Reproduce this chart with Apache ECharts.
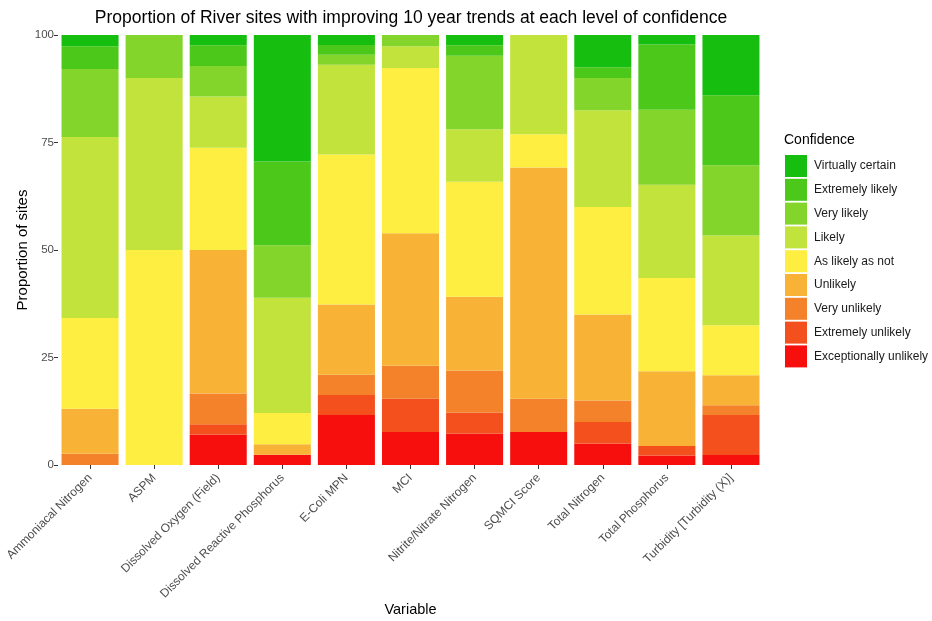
<!DOCTYPE html>
<html>
<head>
<meta charset="utf-8">
<script src="https://cdn.jsdelivr.net/npm/echarts@6/dist/echarts.min.js"></script>
<style>
  html, body { margin: 0; padding: 0; background: #ffffff; }
  #chart { width: 932px; height: 621px; }
</style>
</head>
<body>
<div id="chart"></div>
<script>
// Water quality variables (x categories)
const variables = [
  'Ammoniacal Nitrogen', 'ASPM', 'Dissolved Oxygen (Field)', 'Dissolved Reactive Phosphorus',
  'E-Coli MPN', 'MCI', 'Nitrite/Nitrate Nitrogen', 'SQMCI Score', 'Total Nitrogen',
  'Total Phosphorus', 'Turbidity [Turbidity (X)]'
];

// Confidence levels, bottom of the stack first
const levels = [
  'Exceptionally unlikely', 'Extremely unlikely', 'Very unlikely', 'Unlikely',
  'As likely as not', 'Likely', 'Very likely', 'Extremely likely', 'Virtually certain'
];

// Proportion of sites (%) per confidence level, one value per variable
const exceptionallyUnlikely = [0, 0, 7.1, 2.4, 11.6, 7.7, 7.3, 7.7, 5, 2.2, 2.3];
const extremelyUnlikely     = [0, 0, 2.4, 0, 4.7, 7.7, 4.9, 0, 5, 2.2, 9.3];
const veryUnlikely          = [2.6, 0, 7.1, 0, 4.7, 7.7, 9.8, 7.7, 5, 0, 2.3];
const unlikely              = [10.5, 0, 33.4, 2.4, 16.3, 30.8, 17.1, 53.8, 20, 17.4, 7.0];
const asLikelyAsNot         = [21.1, 50, 23.8, 7.3, 34.9, 38.4, 26.8, 7.7, 25, 21.7, 11.6];
const likely                = [42.1, 40, 11.9, 26.8, 20.9, 5.1, 12.2, 23.1, 22.5, 21.7, 20.9];
const veryLikely            = [15.8, 10, 7.1, 12.2, 2.3, 2.6, 17.1, 0, 7.5, 17.4, 16.3];
const extremelyLikely       = [5.3, 0, 4.8, 19.5, 2.3, 0, 2.4, 0, 2.5, 15.2, 16.3];
const virtuallyCertain      = [2.6, 0, 2.4, 29.4, 2.3, 0, 2.4, 0, 7.5, 2.2, 14.0];

const levelValues = [
  exceptionallyUnlikely, extremelyUnlikely, veryUnlikely, unlikely,
  asLikelyAsNot, likely, veryLikely, extremelyLikely, virtuallyCertain
];

const yTicks = [0, 25, 50, 75, 100];

const levelColors = [
  '#f60f0c', '#f3501d', '#f4822a', '#f8b236',
  '#fdee41', '#c2e33b', '#84d52b', '#4cc81b', '#16bf0f'
];

const font = '"Liberation Sans", Arial, sans-serif';

const series = levels.map((name, i) => ({
  name: name,
  type: 'bar',
  stack: 'total',
  barCategoryGap: '11%',
  data: levelValues[i],
  itemStyle: { color: levelColors[i] },
  emphasis: { disabled: true }
}));

const chart = echarts.init(document.getElementById('chart'), null, { renderer: 'canvas' });

chart.setOption({
  backgroundColor: '#ffffff',
  animation: false,
  textStyle: { fontFamily: font },
  title: [
    {
      text: 'Proportion of River sites with improving 10 year trends at each level of confidence',
      left: 411, top: 9, textAlign: 'center', padding: 0,
      textStyle: { fontFamily: font, fontSize: 17.5, fontWeight: 'normal', color: '#000000' }
    },
    {
      text: 'Confidence',
      left: 784, top: 133, padding: 0,
      textStyle: { fontFamily: font, fontSize: 14, fontWeight: 'normal', color: '#000000' }
    }
  ],
  legend: {
    orient: 'vertical',
    left: 785, top: 155, padding: 0,
    itemWidth: 22, itemHeight: 22, itemGap: 1.8,
    icon: 'rect',
    data: levels.slice().reverse(),
    selectedMode: false,
    textStyle: { fontFamily: font, fontSize: 12, color: '#1a1a1a', padding: [0, 0, 0, 2] }
  },
  grid: {
    left: 58, right: 932 - 763, top: 35, bottom: 621 - 465,
    containLabel: false, outerBoundsMode: 'none'
  },
  xAxis: {
    type: 'category',
    data: variables,
    boundaryGap: true,
    name: 'Variable',
    nameLocation: 'middle',
    nameGap: 137,
    nameMoveOverlap: false,
    nameTextStyle: { fontFamily: font, fontSize: 14.5, color: '#000000' },
    axisLine: { show: false },
    axisTick: { show: true, alignWithLabel: true, length: 4, lineStyle: { color: '#333333' } },
    axisLabel: { rotate: 45, interval: 0, margin: 11, fontFamily: font, fontSize: 12, color: '#4d4d4d' },
    splitLine: { show: false }
  },
  yAxis: {
    type: 'value',
    min: yTicks[0],
    max: yTicks[yTicks.length - 1],
    interval: 25,
    name: 'Proportion of sites',
    nameLocation: 'middle',
    nameGap: 28,
    nameMoveOverlap: false,
    nameRotate: 90,
    nameTextStyle: { fontFamily: font, fontSize: 15, color: '#000000' },
    axisLine: { show: false },
    axisTick: { show: true, length: 4, lineStyle: { color: '#333333' } },
    axisLabel: { margin: 4, fontFamily: font, fontSize: 11.5, color: '#4d4d4d' },
    splitLine: { show: false }
  },
  series: series
});
</script>
</body>
</html>
